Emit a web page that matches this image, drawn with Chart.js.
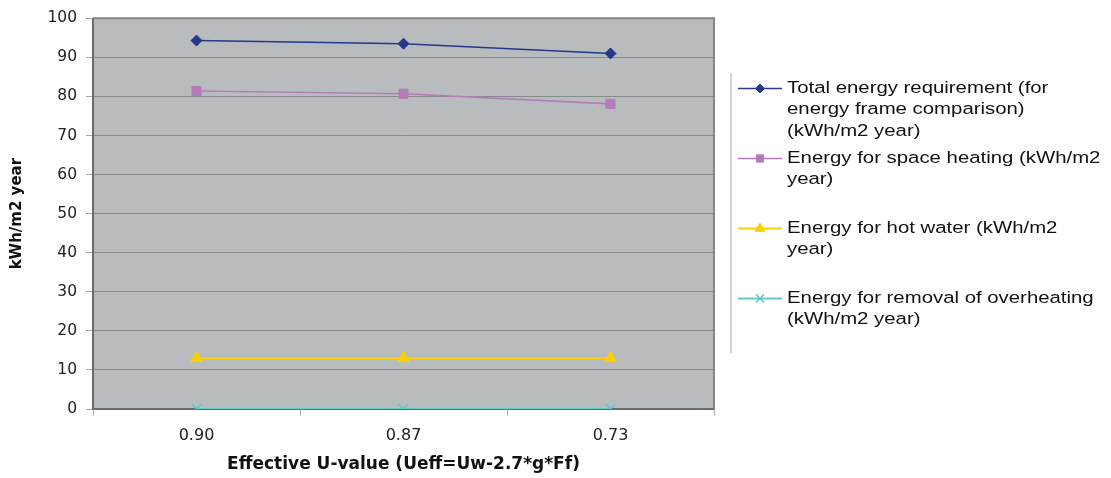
<!DOCTYPE html>
<html>
<head>
<meta charset="utf-8">
<script src="https://cdn.jsdelivr.net/npm/chart.js@4/dist/chart.umd.min.js"></script>
<style>
  html, body { margin: 0; padding: 0; background: #fff; }
  #wrap { width: 1111px; height: 478px; position: relative; }
</style>
</head>
<body>
<div id="wrap"><canvas id="c" width="1111" height="478"></canvas></div>
<script>
// ---- data ----
const categories = ['0.90', '0.87', '0.73'];
const totalEnergy = [94.3, 93.5, 91.0];
const spaceHeating = [81.4, 80.7, 78.1];
const hotWater = [13.0, 13.0, 13.0];
const overheating = [0, 0, 0];
const yTicks = [0, 10, 20, 30, 40, 50, 60, 70, 80, 90, 100];
const legendTotal = ['Total energy requirement (for', 'energy frame comparison)', '(kWh/m2 year)'];
const legendSpace = ['Energy for space heating (kWh/m2', 'year)'];
const legendHot = ['Energy for hot water (kWh/m2', 'year)'];
const legendOver = ['Energy for removal of overheating', '(kWh/m2 year)'];
const xTitle = 'Effective U-value (Ueff=Uw-2.7*g*Ff)';
const yTitle = 'kWh/m2 year';

const FONT = "'DejaVu Sans', 'Liberation Sans', Arial, sans-serif";
const LEGEND_FONT = "'Liberation Sans', Arial, sans-serif";

const plotBg = {
  id: 'plotBg',
  beforeDraw(chart) {
    const { ctx, chartArea: a } = chart;
    ctx.save();
    ctx.fillStyle = '#b8bcbf';
    ctx.fillRect(a.left, a.top, a.right - a.left, a.bottom - a.top);
    ctx.restore();
  },
  beforeDatasetsDraw(chart) {
    const { ctx, chartArea: a } = chart;
    ctx.save();
    ctx.lineWidth = 2;
    ctx.strokeStyle = '#84878a';
    ctx.beginPath();
    ctx.moveTo(a.left, a.top);
    ctx.lineTo(a.right, a.top);
    ctx.lineTo(a.right, a.bottom);
    ctx.stroke();
    ctx.strokeStyle = '#6a6c6e';
    ctx.beginPath();
    ctx.moveTo(a.left, a.top);
    ctx.lineTo(a.left, a.bottom);
    ctx.lineTo(a.right, a.bottom);
    ctx.stroke();
    ctx.restore();
  }
};

const customLegend = {
  id: 'customLegend',
  afterDraw(chart) {
    const ctx = chart.ctx;
    const x0 = 731, sampleL = 738, sampleR = 782, textX = 787;
    const firstY = 88.5, pitch = 70, lineH = 21.3, stretch = 1.22;
    ctx.save();
    ctx.strokeStyle = '#d4d4d4';
    ctx.lineWidth = 2;
    ctx.beginPath();
    ctx.moveTo(x0, 73);
    ctx.lineTo(x0, 353);
    ctx.stroke();
    chart.data.datasets.forEach((ds, i) => {
      const y = firstY + i * pitch;
      ctx.strokeStyle = ds.borderColor;
      ctx.lineWidth = ds.borderWidth;
      ctx.beginPath();
      ctx.moveTo(sampleL, y);
      ctx.lineTo(sampleR, y);
      ctx.stroke();
      const opts = {
        pointStyle: ds.pointStyle,
        radius: ds.pointRadius * 0.8,
        rotation: 0,
        borderWidth: ds.pointStyle === 'crossRot' ? 1.5 : 1
      };
      ctx.fillStyle = ds.pointBackgroundColor;
      ctx.strokeStyle = ds.pointBorderColor;
      ctx.lineWidth = opts.borderWidth;
      if (Chart.helpers && Chart.helpers.drawPoint) {
        Chart.helpers.drawPoint(ctx, opts, (sampleL + sampleR) / 2, y);
      }
      ctx.save();
      ctx.font = '16.7px ' + LEGEND_FONT;
      ctx.textBaseline = 'middle';
      ctx.textAlign = 'left';
      ctx.fillStyle = '#111';
      ctx.translate(textX, 0);
      ctx.scale(stretch, 1);
      ds.legendLines.forEach((t, k) => ctx.fillText(t, 0, y + k * lineH));
      ctx.restore();
    });
    ctx.restore();
  }
};

function mk(lines, data, color, style, radius, bw) {
  return {
    label: lines.join(' '),
    legendLines: lines,
    data: data,
    borderColor: color,
    backgroundColor: color,
    pointBackgroundColor: color,
    pointBorderColor: color,
    pointStyle: style,
    pointRadius: radius,
    pointHoverRadius: radius,
    pointBorderWidth: style === 'crossRot' ? 1.5 : 1,
    borderWidth: bw,
    tension: 0,
    fill: false
  };
}

new Chart(document.getElementById('c'), {
  type: 'line',
  data: {
    labels: categories,
    datasets: [
      mk(legendTotal, totalEnergy, '#25388a', 'rectRot', 5.5, 1.6),
      mk(legendSpace, spaceHeating, '#b57cba', 'rect', 6.4, 1.6),
      mk(legendHot, hotWater, '#f7d200', 'triangle', 7, 2),
      mk(legendOver, overheating, '#5ec9c6', 'crossRot', 7, 2)
    ]
  },
  options: {
    responsive: false,
    animation: false,
    devicePixelRatio: 1,
    layout: { padding: { top: 16, right: 397, bottom: 0, left: 0 } },
    plugins: {
      legend: { display: false },
      tooltip: { enabled: false }
    },
    scales: {
      x: {
        type: 'category',
        offset: true,
        grid: {
          offset: true,
          drawOnChartArea: false,
          drawTicks: true,
          tickLength: 7,
          color: '#b0b0b0',
          lineWidth: 1
        },
        border: { display: false },
        ticks: {
          color: '#222',
          font: { family: FONT, size: 16 },
          padding: 10,
          maxRotation: 0
        },
        title: {
          display: true,
          text: xTitle,
          color: '#111',
          font: { family: FONT, size: 17, weight: 'bold' },
          padding: { top: 4, bottom: 3 }
        },
        afterFit(s) { s.height = 69; }
      },
      y: {
        min: 0,
        max: 100,
        afterBuildTicks(s) { s.ticks = yTicks.map(v => ({ value: v })); },
        grid: {
          color: '#888b8e',
          lineWidth: 1,
          drawTicks: true,
          tickLength: 7,
          tickColor: '#a8a8a8'
        },
        border: { display: false },
        ticks: {
          color: '#222',
          font: { family: FONT, size: 15.5 },
          padding: 9
        },
        title: {
          display: true,
          text: yTitle,
          color: '#111',
          font: { family: FONT, size: 15, weight: 'bold' },
          padding: { top: 8, bottom: 0 }
        },
        afterFit(s) { s.width = 93; }
      }
    }
  },
  plugins: [plotBg, customLegend]
});
</script>
</body>
</html>
